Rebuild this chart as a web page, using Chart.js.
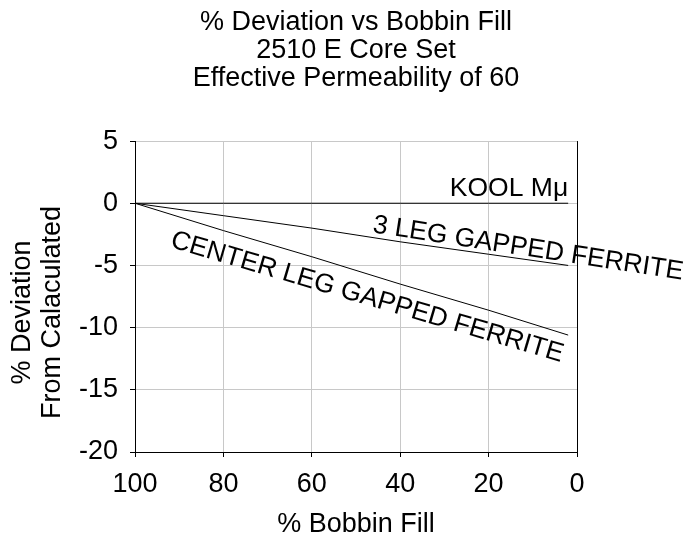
<!DOCTYPE html>
<html lang="en">
<head>
<meta charset="UTF-8" />
<title>% Deviation vs Bobbin Fill</title>
<script src="https://cdn.jsdelivr.net/npm/chart.js"></script>
<style>
  html, body { margin: 0; padding: 0; background: #fff; }
  #wrap { width: 691px; height: 539px; position: relative; }
</style>
</head>
<body>
<div id="wrap"><canvas id="chart"></canvas></div>
<script>
// % bobbin fill (x) and % deviation from calculated (y)
const bobbinFill = [100, 80, 60, 40, 20, 2];
const koolMu = [0, 0, 0, 0, 0, 0];
const threeLeg = [0, -1.0, -2.0, -3.1, -4.1, -5.0];
const centerLeg = [0, -2.2, -4.3, -6.5, -8.6, -10.6];

const titleLines = ["% Deviation vs Bobbin Fill", "2510 E Core Set", "Effective Permeability of 60"];
const yTitleLines = ["% Deviation", "From Calaculated"];
const xTitle = "% Bobbin Fill";

const FONT = "'Liberation Sans', Arial, sans-serif";

function toPoints(ys) {
  return bobbinFill.map((x, i) => ({ x: x, y: ys[i] }));
}

// text labels along the lines, anchored in data units
const lineLabels = [
  { text: "KOOL M\u03bc", x: 2, y: 0.6, angle: 0, align: "right" },
  { text: "3 LEG GAPPED FERRITE", x: 46.4, y: -2.33, angle: 8.7, align: "left" },
  { text: "CENTER LEG GAPPED FERRITE", x: 92.2, y: -3.5, angle: 16.4, align: "left" }
];

const labelPlugin = {
  id: "lineLabels",
  afterDraw(chart) {
    const ctx = chart.ctx;
    const xs = chart.scales.x, ys = chart.scales.y;
    const area = chart.chartArea;
    ctx.save();
    ctx.fillStyle = "#000";
    ctx.font = "26.5px " + FONT;
    ctx.textBaseline = "alphabetic";
    lineLabels.forEach((l) => {
      ctx.save();
      ctx.translate(xs.getPixelForValue(l.x), ys.getPixelForValue(l.y));
      ctx.rotate(l.angle * Math.PI / 180);
      ctx.textAlign = l.align;
      ctx.fillText(l.text, 0, 0);
      ctx.restore();
    });
    // y axis title, two lines
    ctx.font = "27px " + FONT;
    const cy = (area.top + area.bottom) / 2 + 16;
    ctx.textAlign = "center";
    ctx.textBaseline = "middle";
    yTitleLines.forEach((t, i) => {
      ctx.save();
      ctx.translate(area.left - 112 + i * 30, cy);
      ctx.rotate(-Math.PI / 2);
      ctx.fillText(t, 0, 0);
      ctx.restore();
    });
    ctx.restore();
  }
};

Chart.defaults.color = "#000";
Chart.defaults.font.family = FONT;
Chart.defaults.font.size = 27;

const lineStyle = {
  showLine: true,
  borderColor: "#000",
  borderWidth: 1,
  pointRadius: 0,
  fill: false,
  tension: 0
};

new Chart(document.getElementById("chart"), {
  type: "scatter",
  data: {
    datasets: [
      Object.assign({ label: "KOOL Mu", data: toPoints(koolMu) }, lineStyle),
      Object.assign({ label: "3 Leg Gapped Ferrite", data: toPoints(threeLeg) }, lineStyle),
      Object.assign({ label: "Center Leg Gapped Ferrite", data: toPoints(centerLeg) }, lineStyle)
    ]
  },
  options: {
    responsive: true,
    maintainAspectRatio: false,
    animation: false,
    layout: { padding: { left: 0, right: 114, top: 0, bottom: 0 } },
    plugins: {
      legend: { display: false },
      tooltip: { enabled: false },
      title: {
        display: true,
        fullSize: false, // centre over the plot area, not the canvas
        text: titleLines,
        color: "#000",
        font: { size: 27, weight: "normal", lineHeight: 1.05 },
        padding: { top: 8, bottom: 48 }
      }
    },
    scales: {
      x: {
        type: "linear",
        min: 0,
        max: 100,
        reverse: true,
        ticks: { stepSize: 20, padding: 11, color: "#000" },
        grid: {
          color: (c) => (c.tick && c.tick.value === 0 ? "#000" : "#c8c8c8"),
          tickColor: "#000",
          tickLength: 5
        },
        border: { color: "#000" },
        title: {
          display: true,
          text: xTitle,
          color: "#000",
          font: { lineHeight: 1.05 },
          padding: { top: 4, bottom: 0 }
        },
        afterFit(s) { s.height = 87; }
      },
      y: {
        min: -20,
        max: 5,
        ticks: { stepSize: 5, padding: 12, color: "#000" },
        grid: { color: "#c8c8c8", tickColor: "#000", tickLength: 5 },
        border: { color: "#000" },
        afterFit(s) { s.width = 135; }
      }
    }
  },
  plugins: [labelPlugin]
});
</script>
</body>
</html>
